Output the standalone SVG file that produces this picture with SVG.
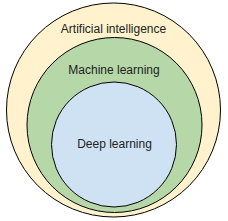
<svg xmlns="http://www.w3.org/2000/svg" width="228" height="221" viewBox="0 0 228 221">
<style>
circle{stroke:#000;stroke-width:1}
text{font-family:"Liberation Sans",Arial,sans-serif;font-size:12px;fill:#222;text-anchor:middle}
</style>
<rect width="228" height="221" fill="#fff"/>
<g id="ai"><circle cx="113.5" cy="110" r="107" fill="#fff2cc"/><text x="113.5" y="33">Artificial intelligence</text></g>
<g id="ml"><circle cx="114.5" cy="125" r="87.5" fill="#b6d7a8"/><text x="114" y="74">Machine learning</text></g>
<g id="dl"><circle cx="114" cy="144.5" r="62.5" fill="#cfe2f3"/><text x="114.5" y="148">Deep learning</text></g>
<g id="connectors"/>
</svg>
